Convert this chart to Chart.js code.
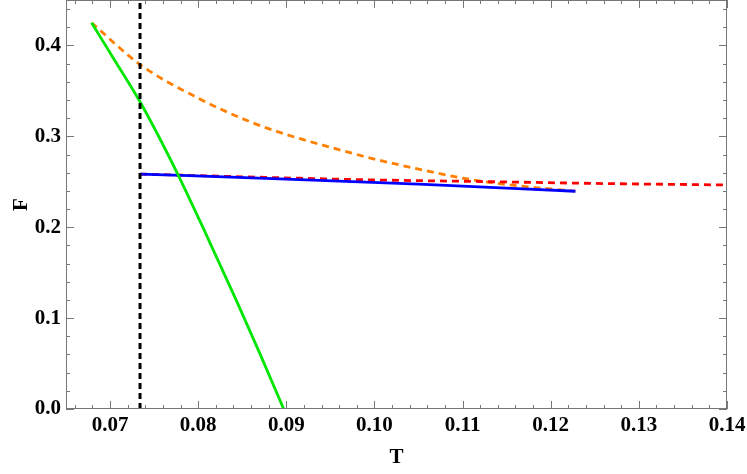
<!DOCTYPE html>
<html>
<head>
<meta charset="utf-8">
<script src="https://cdn.jsdelivr.net/npm/chart.js@4"></script>
<style>
  html, body { margin: 0; padding: 0; background: #fff; }
  #wrap { width: 747px; height: 474px; }
</style>
</head>
<body>
<div id="wrap"><canvas id="myChart"></canvas></div>
<script>
// data
var greenT = [0.0679, 0.0705, 0.0734, 0.0777, 0.081, 0.0843, 0.087, 0.0897]
var greenF = [0.425, 0.384, 0.338, 0.258, 0.190, 0.120, 0.061, 0.0]
var orangeT = [0.0679, 0.0734, 0.08, 0.0859, 0.09, 0.095, 0.1, 0.105, 0.11, 0.115, 0.1228]
var orangeF = [0.425, 0.379, 0.342, 0.316, 0.302, 0.288, 0.275, 0.264, 0.254, 0.247, 0.2396]
var blueT = [0.0734, 0.09, 0.105, 0.1228]
var blueF = [0.2585, 0.2530, 0.2475, 0.2396]
var redT = [0.0734, 0.085, 0.1, 0.112, 0.125, 0.14]
var redF = [0.2585, 0.2555, 0.252, 0.2503, 0.2482, 0.2465]
var vlineT = 0.0734
var xTicks = [0.07, 0.08, 0.09, 0.10, 0.11, 0.12, 0.13, 0.14]
var yTicks = [0.0, 0.1, 0.2, 0.3, 0.4]

function pts(xs, ys) {
  return xs.map(function (x, i) { return { x: x, y: ys[i] } })
}

var font = { family: 'Liberation Serif', weight: 'bold', size: 21 }
var titleFont = { family: 'Liberation Serif', weight: 'bold', size: 21 }

// Mathematica-like frame with inward major/minor ticks
var framePlugin = {
  id: 'frame',
  afterDraw: function (chart) {
    var c = chart.ctx, a = chart.chartArea
    var sx = chart.scales.x, sy = chart.scales.y
    c.save()
    c.strokeStyle = '#777'
    c.lineWidth = 1
    c.strokeRect(a.left + 0.5, a.top + 0.5, a.right - a.left - 1, a.bottom - a.top - 1)
    c.beginPath()
    for (var i = 0; i <= 37; i++) {
      var v = 0.066 + i * 0.002
      var px = Math.round(sx.getPixelForValue(v)) + 0.5
      var len = (i % 5 === 2) ? 8 : 4
      c.moveTo(px, a.bottom); c.lineTo(px, a.bottom - len)
      c.moveTo(px, a.top); c.lineTo(px, a.top + len)
    }
    for (var j = 0; j <= 22; j++) {
      var w = j * 0.02
      var py = Math.round(sy.getPixelForValue(w)) + 0.5
      var l2 = (j % 5 === 0) ? 8 : 4
      c.moveTo(a.left, py); c.lineTo(a.left + l2, py)
      c.moveTo(a.right, py); c.lineTo(a.right - l2, py)
    }
    c.stroke()
    c.restore()
  }
}

new Chart(document.getElementById('myChart'), {
  type: 'line',
  data: {
    datasets: [
      {
        label: 'transition',
        data: [{ x: vlineT, y: 0 }, { x: vlineT, y: 0.45 }],
        borderColor: '#000',
        borderWidth: 3,
        borderDash: [6, 4],
      },
      {
        label: 'green',
        data: pts(greenT, greenF),
        borderColor: 'rgb(0, 230, 0)',
        borderWidth: 2.8,
        cubicInterpolationMode: 'monotone',
      },
      {
        label: 'blue',
        data: pts(blueT, blueF),
        borderColor: 'rgb(0, 0, 255)',
        borderWidth: 2.8,
        cubicInterpolationMode: 'monotone',
      },
      {
        label: 'red',
        data: pts(redT, redF),
        borderColor: 'rgb(255, 0, 0)',
        borderWidth: 2.8,
        borderDash: [7, 5],
        cubicInterpolationMode: 'monotone',
      },
      {
        label: 'orange',
        data: pts(orangeT, orangeF),
        borderColor: 'rgb(255, 128, 0)',
        borderWidth: 2.8,
        borderDash: [7, 5],
        cubicInterpolationMode: 'monotone',
      },
    ],
  },
  options: {
    responsive: true,
    maintainAspectRatio: false,
    animation: false,
    layout: { padding: { top: 0, right: 20, left: 0, bottom: 0 } },
    elements: { point: { radius: 0 } },
    plugins: { legend: { display: false }, tooltip: { enabled: false } },
    scales: {
      x: {
        type: 'linear',
        min: 0.065,
        max: 0.14,
        grid: { display: false, drawTicks: false },
        border: { display: false },
        afterBuildTicks: function (s) { s.ticks = xTicks.map(function (v) { return { value: v } }) },
        afterFit: function (s) { s.height = 65; s.paddingLeft = 0; s.paddingRight = 0 },
        ticks: {
          color: '#000',
          font: font,
          padding: 4,
          maxRotation: 0,
          callback: function (v) { return v.toFixed(2) },
        },
        title: { display: true, text: 'T', color: '#000', font: titleFont, padding: { top: 10 } },
      },
      y: {
        type: 'linear',
        min: 0,
        max: 0.45,
        grid: { display: false, drawTicks: false },
        border: { display: false },
        afterBuildTicks: function (s) { s.ticks = yTicks.map(function (v) { return { value: v } }) },
        afterFit: function (s) { s.width = 66; s.paddingTop = 0; s.paddingBottom = 0 },
        ticks: {
          color: '#000',
          font: font,
          padding: 5,
          callback: function (v) { return v.toFixed(1) },
        },
        title: { display: true, text: 'F', color: '#000', font: titleFont, padding: { top: 9, bottom: 0 } },
      },
    },
  },
  plugins: [framePlugin],
})
</script>
</body>
</html>
